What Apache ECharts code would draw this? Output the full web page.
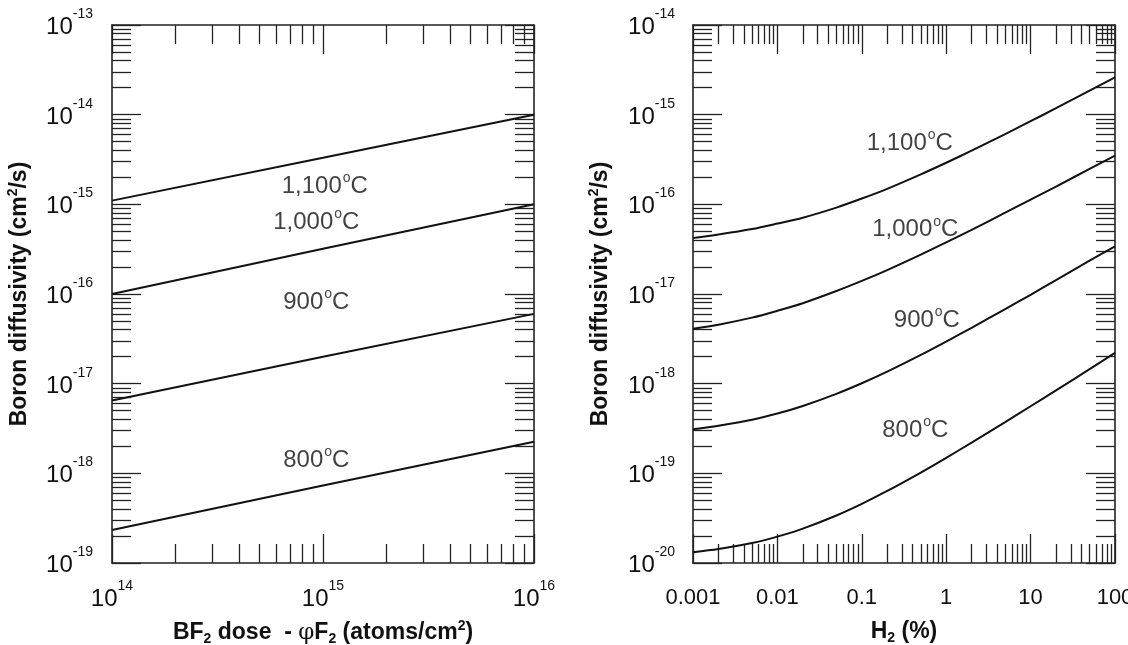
<!DOCTYPE html>
<html><head><meta charset="utf-8">
<script src="https://cdn.jsdelivr.net/npm/echarts@6/dist/echarts.min.js"></script>
<style>html,body{margin:0;padding:0;background:#fff}#c{width:1128px;height:645px}</style>
</head><body><div id="c"></div>
<script>
// ---------- Left panel: BF2 dose ----------
const doseX    = [1e14, 1e15, 1e16];
const dose1100 = [1.1e-15, 3.3e-15, 1.0e-14];
const dose1000 = [1.0e-16, 3.2e-16, 1.0e-15];
const dose900  = [6.5e-18, 2.0e-17, 6.0e-17];
const dose800  = [2.33e-19, 7.3e-19, 2.25e-18];

// ---------- Right panel: H2 (%) ----------
const h2X    = [0.001, 0.002, 0.005, 0.01, 0.02, 0.05, 0.1, 0.2, 0.5, 1, 2, 5, 10, 20, 50, 100];
const h21100 = [4.2e-17, 4.6e-17, 5.3e-17, 6.1e-17, 7.1e-17, 9.2e-17, 1.16e-16, 1.49e-16, 2.16e-16, 2.91e-16, 3.97e-16, 6.07e-16, 8.45e-16, 1.18e-15, 1.85e-15, 2.6e-15];
const h21000 = [4.1e-18, 4.55e-18, 5.45e-18, 6.5e-18, 7.9e-18, 1.08e-17, 1.4e-17, 1.85e-17, 2.75e-17, 3.77e-17, 5.2e-17, 8.06e-17, 1.13e-16, 1.58e-16, 2.48e-16, 3.5e-16];
const h2900  = [3.1e-19, 3.4e-19, 3.96e-19, 4.64e-19, 5.64e-19, 7.7e-19, 1.01e-18, 1.36e-18, 2.09e-18, 2.95e-18, 4.2e-18, 6.8e-18, 9.8e-18, 1.43e-17, 2.35e-17, 3.4e-17];
const h2800  = [1.32e-20, 1.43e-20, 1.67e-20, 1.97e-20, 2.42e-20, 3.39e-20, 4.57e-20, 6.36e-20, 1.02e-19, 1.49e-19, 2.2e-19, 3.73e-19, 5.6e-19, 8.4e-19, 1.45e-18, 2.2e-18];

// ---------- Tick labels ----------
const leftXMajor  = [1e14, 1e15, 1e16];
const leftYMajor  = [1e-19, 1e-18, 1e-17, 1e-16, 1e-15, 1e-14, 1e-13];
const rightXMajor = [0.001, 0.01, 0.1, 1, 10, 100];
const rightXLabels = ['0.001', '0.01', '0.1', '1', '10', '100'];
const rightYMajor = [1e-20, 1e-19, 1e-18, 1e-17, 1e-16, 1e-15, 1e-14];

// ---------- Curve labels (text, x, y in data units) ----------
const leftCurveLabels  = [['1,100', 1.02e15, 1.6e-15], ['1,000', 9.3e14, 6.35e-16], ['900', 9.3e14, 8.1e-17], ['800', 9.3e14, 1.4e-18]];
const rightCurveLabels = [['1,100', 0.37, 4.8e-16], ['1,000', 0.43, 5.2e-17], ['900', 0.59, 5.1e-18], ['800', 0.43, 3.0e-19]];

const INK = '#111';
const FONT = 'Liberation Sans';

function minorsOf(majors) {
  const out = [];
  for (let i = 0; i < majors.length - 1; i++) {
    for (let k = 2; k <= 9; k++) out.push(k * majors[i]);
  }
  return out;
}
function zip(xs, ys) { return xs.map((x, i) => [x, ys[i]]); }
function powLabel(v) { return '{b|10}{s|' + Math.round(Math.log10(v)) + '}'; }

const powRich = {
  b: { fontSize: 24, fontFamily: FONT, color: INK, padding: [5, 0, 0, 0] },
  s: { fontSize: 14, fontFamily: FONT, color: INK, padding: [0, 0, 22, 0] }
};
const nameRich = {
  b: { fontSize: 23, fontWeight: 'bold', fontFamily: FONT, color: INK },
  sub: { fontSize: 14, fontWeight: 'bold', fontFamily: FONT, color: INK, padding: [12, 0, 0, 0] },
  sup: { fontSize: 14, fontWeight: 'bold', fontFamily: FONT, color: INK, padding: [0, 0, 14, 0] },
  phi: { fontSize: 23, fontFamily: 'DejaVu Serif', color: INK }
};

function axisSet(dim, gridIndex, min, max, major, labelCfg, nameCfg) {
  const minor = minorsOf(major);
  const pos = dim === 'x' ? ['bottom', 'top'] : ['left', 'right'];
  const base = { type: 'log', logBase: 10, gridIndex, min, max, silent: true,
    splitLine: { show: false }, minorTick: { show: false }, axisPointer: { show: false } };
  const tickStyle = { color: '#222', width: 1.3 };
  const lineStyle = { color: '#222', width: 1.6 };
  const majorTick = { show: true, inside: true, length: 29, customValues: major, lineStyle: tickStyle };
  const minorTick = { show: true, inside: true, length: 19, customValues: minor, lineStyle: tickStyle };
  return [
    Object.assign({}, base, { position: pos[0], axisLine: { show: true, onZero: false, lineStyle }, axisTick: majorTick, axisLabel: labelCfg }, nameCfg),
    Object.assign({}, base, { position: pos[0], axisLine: { show: false }, axisTick: minorTick, axisLabel: { show: false } }),
    Object.assign({}, base, { position: pos[1], axisLine: { show: true, onZero: false, lineStyle }, axisTick: majorTick, axisLabel: { show: false } }),
    Object.assign({}, base, { position: pos[1], axisLine: { show: false }, axisTick: minorTick, axisLabel: { show: false } })
  ];
}

const yName = { name: '{b|Boron diffusivity (cm}{sup|2}{b|/s)}', nameLocation: 'middle', nameRotate: 90,
  nameMoveOverlap: false, nameTextStyle: { rich: nameRich } };

const xAxes = [].concat(
  axisSet('x', 0, 1e14, 1e16, leftXMajor,
    { show: true, customValues: leftXMajor, margin: 16, formatter: powLabel, rich: powRich },
    { name: '{b|BF}{sub|2}{b| dose  - }{phi|φ}{b|F}{sub|2}{b| (atoms/cm}{sup|2}{b|)}', nameLocation: 'middle', nameGap: 56,
      nameMoveOverlap: false, nameTextStyle: { rich: nameRich } }),
  axisSet('x', 1, 0.001, 100, rightXMajor,
    { show: true, customValues: rightXMajor, margin: 24, fontSize: 22, fontFamily: FONT, color: INK,
      formatter: v => rightXLabels[Math.round(Math.log10(v)) + 3] },
    { name: '{b|H}{sub|2}{b| (%)}', nameLocation: 'middle', nameGap: 56, nameMoveOverlap: false, nameTextStyle: { rich: nameRich } })
);
const yAxes = [].concat(
  axisSet('y', 0, 1e-19, 1e-13, leftYMajor,
    { show: true, customValues: leftYMajor, margin: 19, formatter: powLabel, rich: powRich },
    Object.assign({ nameGap: 78 }, yName)),
  axisSet('y', 1, 1e-20, 1e-14, rightYMajor,
    { show: true, customValues: rightYMajor, margin: 18, formatter: powLabel, rich: powRich },
    Object.assign({ nameGap: 78 }, yName))
);

function curve(ax, xs, ys, smooth) {
  return { type: 'line', xAxisIndex: ax, yAxisIndex: ax, data: zip(xs, ys), showSymbol: false, symbol: 'none',
    smooth: smooth, lineStyle: { color: '#111', width: 2 }, silent: true, z: 3 };
}
function labelSeries(ax, items) {
  return { type: 'scatter', xAxisIndex: ax, yAxisIndex: ax, symbolSize: 1, itemStyle: { color: 'rgba(0,0,0,0)' }, silent: true,
    data: items.map(it => ({ value: [it[1], it[2]], name: it[0] })),
    label: { show: true, position: 'inside', formatter: p => '{t|' + p.name + '}{s|o}{t|C}',
      rich: { t: { fontSize: 24, fontFamily: FONT, color: '#111' }, s: { fontSize: 14, fontFamily: FONT, color: '#111', padding: [0, 0, 16, 1] } } } };
}

const chart = echarts.init(document.getElementById('c'), null, { renderer: 'canvas' });
chart.setOption({
  animation: false,
  backgroundColor: '#fff',
  grid: [
    { left: 112, top: 25, width: 422, height: 538, containLabel: false, outerBoundsMode: 'none' },
    { left: 693, top: 25, width: 422, height: 538, containLabel: false, outerBoundsMode: 'none' }
  ],
  xAxis: xAxes,
  yAxis: yAxes,
  series: [
    curve(0, doseX, dose1100, false), curve(0, doseX, dose1000, false),
    curve(0, doseX, dose900, false), curve(0, doseX, dose800, false),
    curve(4, h2X, h21100, 0.3), curve(4, h2X, h21000, 0.3),
    curve(4, h2X, h2900, 0.3), curve(4, h2X, h2800, 0.3),
    labelSeries(0, leftCurveLabels), labelSeries(4, rightCurveLabels)
  ]
});
</script></body></html>
